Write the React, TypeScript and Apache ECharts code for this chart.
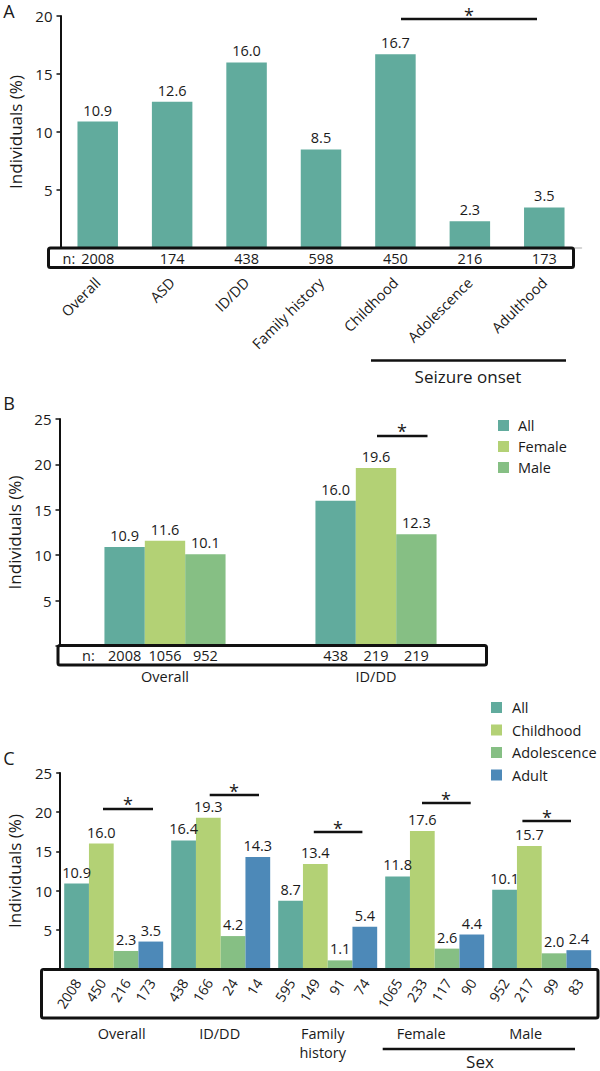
import React, { useEffect, useRef } from 'react';
import * as echarts from 'echarts';

// ---------- Data ----------
const catsA = ['Overall', 'ASD', 'ID/DD', 'Family history', 'Childhood', 'Adolescence', 'Adulthood'];
const valsA = [10.9, 12.6, 16.0, 8.5, 16.7, 2.3, 3.5];
const nA = [2008, 174, 438, 598, 450, 216, 173];

const catsB = ['Overall', 'ID/DD'];
const namesB = ['All', 'Female', 'Male'];
const valsBAll = [10.9, 16.0];
const valsBFemale = [11.6, 19.6];
const valsBMale = [10.1, 12.3];
const nBAll = [2008, 438];
const nBFemale = [1056, 219];
const nBMale = [952, 219];

const catsC = ['Overall', 'ID/DD', 'Family\nhistory', 'Female', 'Male'];
const namesC = ['All', 'Childhood', 'Adolescence', 'Adult'];
const valsCAll = [10.9, 16.4, 8.7, 11.8, 10.1];
const valsCChildhood = [16.0, 19.3, 13.4, 17.6, 15.7];
const valsCAdolescence = [2.3, 4.2, 1.1, 2.6, 2.0];
const valsCAdult = [3.5, 14.3, 5.4, 4.4, 2.4];
const nCAll = [2008, 438, 595, 1065, 952];
const nCChildhood = [450, 166, 149, 233, 217];
const nCAdolescence = [216, 24, 91, 117, 99];
const nCAdult = [173, 14, 74, 90, 83];

const yMaxA = 20;
const yMaxB = 25;
const yMaxC = 25;
const yStep = 5;

// ---------- Styles ----------
const F = '"Open Sans", "Noto Sans", sans-serif';
const TXT = '#1a1a1a';
const TEAL = '#61ab9d';
const LIGHT = '#b3d175';
const MID = '#86bf84';
const BLUE = '#4d89b8';

const gapA = 0.456;
const gapB = 0.426;
const gapC = 0.075;

// horizontal nudges of panel C group labels (px), as in the original figure
const shiftC = [8, -1, -5, -13.5, -16];

const fmt1 = (p: any) => Number(p.value).toFixed(1);

const yAxis = (gi: number, max: number) => ({
  type: 'value',
  gridIndex: gi,
  min: 0,
  max,
  interval: yStep,
  name: 'Individuals (%)',
  nameLocation: 'middle',
  nameRotate: 90,
  nameGap: 37,
  nameTextStyle: { fontSize: 17, color: TXT, fontFamily: F },
  axisLine: { show: true, lineStyle: { color: '#111', width: 2 } },
  axisTick: { show: true, length: 4, lineStyle: { color: '#111', width: 1.5 } },
  axisLabel: {
    margin: 8,
    fontSize: 15,
    color: TXT,
    fontFamily: F,
    formatter: (v: number) => (v === 0 ? '' : String(v)),
  },
  splitLine: { show: false },
});

const barSeries = (name: string, gi: number, data: number[], color: string, gap: number) => ({
  type: 'bar',
  name,
  xAxisIndex: gi,
  yAxisIndex: gi,
  data,
  barGap: '0%',
  barCategoryGap: `${gap * 100}%`,
  itemStyle: { color },
  label: {
    show: true,
    position: 'top',
    distance: 4,
    formatter: fmt1,
    fontSize: 14.5,
    color: TXT,
    fontFamily: F,
  },
});

// n labels drawn through the axes' scales (custom series)
const nSeries = (
  gi: number,
  lists: number[][],
  gap: number,
  dy: number,
  rotateDeg: number,
  dx: number,
  size: number
) => {
  const k = lists.length;
  const data: number[][] = [];
  lists.forEach((arr, s) => arr.forEach((n, c) => data.push([c, 0, s, n])));
  return {
    type: 'custom',
    xAxisIndex: gi,
    yAxisIndex: gi,
    silent: true,
    z: 120,
    encode: { x: 0, y: 1 },
    data,
    renderItem: (params: any, api: any) => {
      const c = api.value(0);
      const s = api.value(2);
      const n = api.value(3);
      const pt = api.coord([c, 0]);
      const band = api.size([1, 0])[0];
      const bw = (band * (1 - gap)) / k;
      const x = pt[0] + (s - (k - 1) / 2) * bw + dx;
      const y = pt[1] + dy;
      return {
        type: 'text',
        x,
        y,
        rotation: (rotateDeg * Math.PI) / 180,
        z2: 120,
        style: {
          text: String(n),
          fill: TXT,
          fontSize: size,
          fontFamily: F,
          align: rotateDeg ? 'right' : 'center',
          verticalAlign: 'middle',
        },
      };
    },
  };
};

const line = (x1: number, y1: number, x2: number, y2: number, w = 2.5) => ({
  type: 'line',
  z: 100,
  shape: { x1, y1, x2, y2 },
  style: { stroke: '#111', lineWidth: w },
});
const text = (t: string, x: number, y: number, size: number, align = 'center') => ({
  type: 'text',
  z: 100,
  x,
  y,
  style: { text: t, fill: TXT, fontSize: size, fontFamily: F, align, verticalAlign: 'middle' },
});
const box = (x: number, y: number, w: number, h: number) => ({
  type: 'rect',
  z: 100,
  shape: { x, y, width: w, height: h, r: 2 },
  style: { fill: 'none', stroke: '#111', lineWidth: 3 },
});
const star = (x: number, y: number) => text('*', x, y + 4, 18);

const richC: Record<string, any> = {};
shiftC.forEach((d, i) => {
  richC[`p${i}`] = {
    fontSize: 14.5,
    lineHeight: 19,
    color: TXT,
    fontFamily: F,
    padding: d >= 0 ? [0, 0, 0, 2 * d] : [0, -2 * d, 0, 0],
  };
});

export default function App() {
  const ref = useRef<HTMLDivElement>(null);

  useEffect(() => {
    if (!ref.current) return;
    const chart = echarts.init(ref.current, null, { renderer: 'svg' });
    const legendBase = {
      orient: 'vertical',
      icon: 'rect',
      itemWidth: 11,
      itemHeight: 11,
      padding: 0,
      selectedMode: false,
    };
    chart.setOption({
      animation: false,
      backgroundColor: '#ffffff',
      grid: [
        { left: 60.5, top: 16, width: 521, height: 232, outerBoundsMode: 'none' },
        { left: 59.5, top: 419, width: 422, height: 227, outerBoundsMode: 'none' },
        { left: 60.2, top: 773, width: 535, height: 196, outerBoundsMode: 'none' },
      ],
      xAxis: [
        {
          type: 'category',
          gridIndex: 0,
          data: catsA,
          axisLine: { show: true, lineStyle: { color: '#c8c8c8', width: 1.5 } },
          axisTick: { show: false },
          axisLabel: { interval: 0, rotate: 45, margin: 32, fontSize: 14.5, color: TXT, fontFamily: F },
        },
        {
          type: 'category',
          gridIndex: 1,
          data: catsB,
          axisLine: { show: false },
          axisTick: { show: false },
          axisLabel: { interval: 0, margin: 21, fontSize: 14.5, lineHeight: 19, color: TXT, fontFamily: F },
        },
        {
          type: 'category',
          gridIndex: 2,
          data: catsC,
          axisLine: { show: false },
          axisTick: { show: false },
          axisLabel: {
            interval: 0,
            margin: 55,
            fontSize: 14.5,
            lineHeight: 19,
            color: TXT,
            fontFamily: F,
            formatter: (v: string, i: number) =>
              v
                .split('\n')
                .map((s) => `{p${i}|${s}}`)
                .join('\n'),
            rich: richC,
          },
        },
      ],
      yAxis: [yAxis(0, yMaxA), yAxis(1, yMaxB), yAxis(2, yMaxC)],
      legend: [
        {
          ...legendBase,
          data: namesB,
          left: 498,
          top: 418,
          itemGap: 6,
          textStyle: { fontSize: 14.5, lineHeight: 12, color: TXT, fontFamily: F, padding: [0, 0, 0, 4] },
        },
        {
          ...legendBase,
          data: namesC,
          left: 491,
          top: 700,
          itemGap: 7.5,
          textStyle: { fontSize: 14.5, lineHeight: 12, color: TXT, fontFamily: F, padding: [0, 0, 0, 5] },
        },
      ],
      series: [
        barSeries('Overall', 0, valsA, TEAL, gapA),
        barSeries('All', 1, valsBAll, TEAL, gapB),
        barSeries('Female', 1, valsBFemale, LIGHT, gapB),
        barSeries('Male', 1, valsBMale, MID, gapB),
        barSeries('All', 2, valsCAll, TEAL, gapC),
        barSeries('Childhood', 2, valsCChildhood, LIGHT, gapC),
        barSeries('Adolescence', 2, valsCAdolescence, MID, gapC),
        barSeries('Adult', 2, valsCAdult, BLUE, gapC),
        nSeries(0, [nA], gapA, 10.5, 0, 0, 14.5),
        nSeries(1, [nBAll, nBFemale, nBMale], gapB, 9, 0, 0, 14.5),
        nSeries(2, [nCAll, nCChildhood, nCAdolescence, nCAdult], gapC, 11, 57, 1, 14),
      ],
      graphic: [
        text('A', 9, 11, 18),
        text('B', 9, 403, 18),
        text('C', 9, 758, 18),
        box(48.5, 248, 525, 19.5),
        box(58, 645.5, 428.5, 19.5),
        box(41.5, 969.5, 556.5, 48.5),
        text('n:', 62.5, 258.5, 14.5, 'left'),
        text('n:', 82, 655, 14.5, 'left'),
        // A annotations
        line(401, 19, 537, 19),
        star(469, 11),
        line(371, 360.5, 566, 360.5),
        text('Seizure onset', 468, 376.5, 17),
        // B annotations
        line(377, 436, 427.5, 436),
        star(402, 427),
        // C annotations
        line(103, 809, 153, 809),
        star(128, 800),
        line(209.7, 795, 259, 795),
        star(234, 787),
        line(313.8, 832, 362.4, 832),
        star(338, 824),
        line(422, 803, 470.7, 803),
        star(446, 795),
        line(522.4, 821, 571, 821),
        star(547, 813),
        line(382.7, 1049, 575, 1049),
        text('Sex', 480, 1061, 17),
      ],
    });
    return () => chart.dispose();
  }, []);

  return (
    <div
      ref={ref}
      style={{ position: 'absolute', left: 0, top: 0, width: 600, height: 1071, background: '#fff' }}
    />
  );
}
